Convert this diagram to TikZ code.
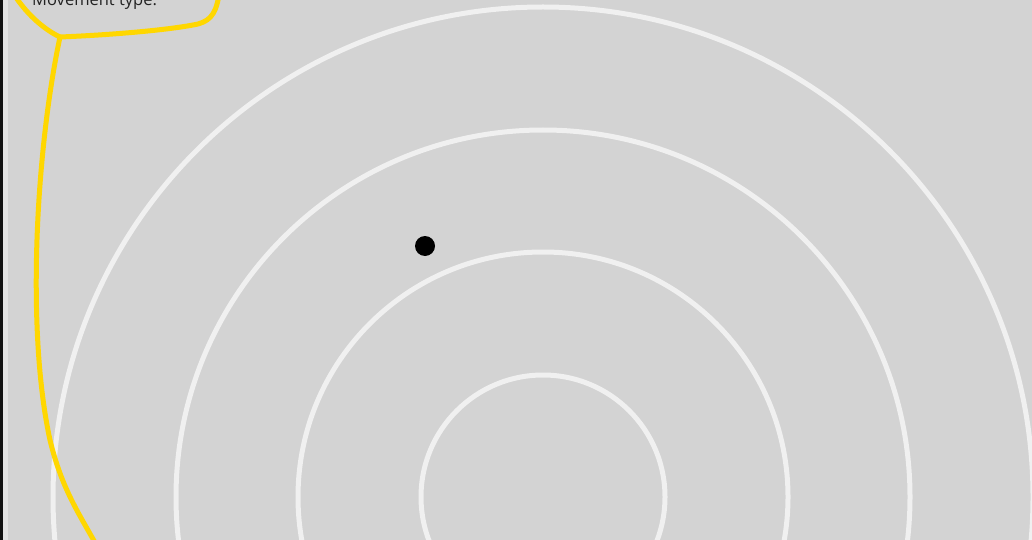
\documentclass[tikz,border=0pt]{standalone}
\usepackage{fontspec}
\setmainfont{Open Sans}
\definecolor{bg}{HTML}{D3D3D3}
\definecolor{ring}{HTML}{F0F0F0}
\definecolor{strip}{HTML}{E4E4E4}
\definecolor{gold}{HTML}{FFD700}
\definecolor{txt}{HTML}{222222}
\tikzset{
  ringline/.style={draw=ring, line width=5pt},
  callout/.style={draw=gold, line width=5pt, line cap=round, line join=round},
}
\begin{document}
\begin{tikzpicture}[x=1pt,y=-1pt]
\useasboundingbox (0,0) rectangle (1032,540);
\begin{scope}
\clip (0,0) rectangle (1032,540);
\fill[bg] (0,0) rectangle (1032,540);
\fill[strip] (2.5,0) rectangle (8,540);
\fill[black!93] (0,0) rectangle (2.5,540);
\coordinate (c) at (543,497);
\draw[ringline] (c) circle[radius=122];
\draw[ringline] (c) circle[radius=245];
\draw[ringline] (c) circle[radius=367];
\draw[ringline] (c) circle[radius=490];
\node[circle, fill=black, minimum size=20pt, inner sep=0pt] (dot) at (425,246) {};
\node[anchor=base west, inner sep=0pt, text=txt, font=\fontsize{16.5}{19}\selectfont] (label) at (32,5.5) {Movement type.};
\coordinate (corner) at (60,37);
\draw[callout] (10,-12) .. controls (25,14) and (45,30) .. (corner)
  .. controls (110,35) and (170,30) .. (198,24)
  .. controls (212,20) and (217,12) .. (220,-12);
\draw[callout] (corner) .. controls (36,150) and (26,330) .. (50,440)
  .. controls (62,490) and (80,515) .. (98,548);
\end{scope}
\end{tikzpicture}
\end{document}
